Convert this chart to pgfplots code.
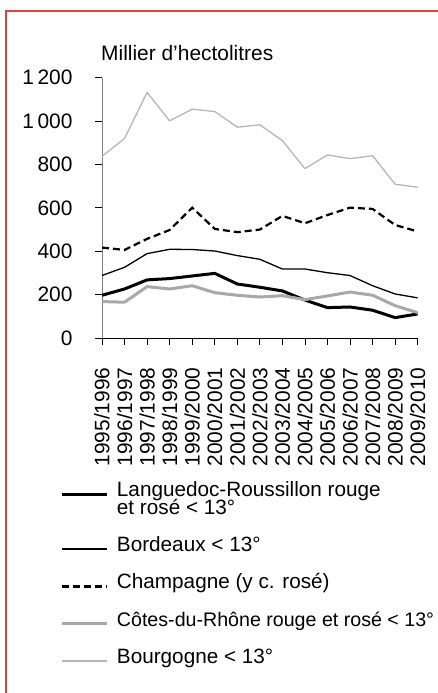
\documentclass[border=0pt]{standalone}
\usepackage{pgfplots}
\pgfplotsset{compat=1.18}
\usepackage{fontspec}
\setmainfont{Liberation Sans}
\definecolor{bourg}{RGB}{182,182,182}
\definecolor{cdr}{RGB}{168,168,168}
\definecolor{frameRed}{RGB}{214,70,70}
\begin{document}
\begin{tikzpicture}
\path[use as bounding box] (0,0) rectangle (438bp,-693bp);
\draw[frameRed, line width=1.3bp] (6bp,-693bp) -- (6bp,-11bp) -- (438bp,-11bp);
\node[anchor=base west, inner sep=0pt, font=\fontsize{21}{25}\selectfont] at (101bp,-60bp) {Millier d'hectolitres};
\begin{axis}[
  at={(102bp,-338bp)}, anchor=south west,
  scale only axis, width=315.7bp, height=260.3bp,
  xmin=0, xmax=14, ymin=0, ymax=1200,
  axis lines=left, axis line style={-},
  x axis line style={black, line width=0.9bp},
  y axis line style={gray, line width=0.9bp},
  xtick={0,...,14},
  xticklabels={1995/1996,1996/1997,1997/1998,1998/1999,1999/2000,2000/2001,2001/2002,2002/2003,2003/2004,2004/2005,2005/2006,2006/2007,2007/2008,2008/2009,2009/2010},
  ytick={0,200,400,600,800,1000,1200},
  tick align=outside, major tick length=7bp,
  tick style={black, line width=0.8bp},
  every tick label/.append style={font=\fontsize{21}{24}\selectfont},
  xticklabel style={yshift=-19bp, rotate=90, anchor=east},
  yticklabel style={xshift=-19bp},
  /pgf/number format/assume math mode=true,
  /pgf/number format/1000 sep={\,},
  legend cell align=left,
  legend style={at={(-0.13,-0.4844)}, anchor=north west, draw=none, fill=none,
    inner sep=0pt, outer sep=0pt, row sep=17.3bp, column sep=8bp,
    nodes={inner sep=0pt, text height=15bp, text depth=5bp, font=\fontsize{20.8}{24}\selectfont}},
  legend image code/.code={\draw[#1] (0bp,-2.5bp) -- (45bp,-2.5bp);},
]
\addplot[black, line width=3bp, line join=round] coordinates {
(0,197) (1,226) (2,268) (3,274) (4,286) (5,298) (6,249) (7,234) (8,217) (9,175) (10,140) (11,143) (12,128) (13,94) (14,111)};
\addlegendentry[text height=32.6bp, text depth=22.6bp]{\parbox[t]{300bp}{\baselineskip=17.6bp\lineskiplimit=-100bp Languedoc-Roussillon rouge\\et rosé < 13°}}
\addplot[black, line width=1.3bp, line join=round] coordinates {
(0,288) (1,326) (2,389) (3,409) (4,408) (5,401) (6,380) (7,363) (8,318) (9,318) (10,301) (11,288) (12,241) (13,203) (14,185)};
\addlegendentry{Bordeaux < 13°}
\addplot[black, line width=2.2bp, dash pattern=on 7bp off 4bp] coordinates {
(0,417) (1,406) (2,457) (3,498) (4,601) (5,503) (6,488) (7,500) (8,563) (9,529) (10,567) (11,601) (12,595) (13,521) (14,491)};
\addlegendentry{Champagne (y c. rosé)}
\addplot[cdr, line width=3bp, line join=round] coordinates {
(0,168) (1,165) (2,237) (3,226) (4,241) (5,209) (6,197) (7,189) (8,195) (9,177) (10,194) (11,212) (12,197) (13,149) (14,117)};
\addlegendentry[font=\fontsize{19.7}{24}\selectfont]{Côtes-du-Rhône rouge et rosé < 13°}
\addplot[bourg, line width=1.3bp, line join=round] coordinates {
(0,837) (1,920) (2,1132) (3,1001) (4,1055) (5,1044) (6,972) (7,983) (8,910) (9,781) (10,844) (11,827) (12,840) (13,709) (14,695)};
\addlegendentry{Bourgogne < 13°}
\end{axis}
\end{tikzpicture}
\end{document}
